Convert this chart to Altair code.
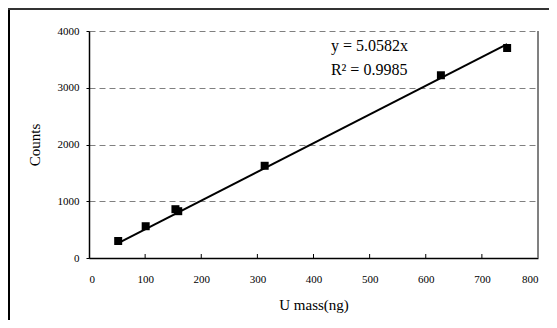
import altair as alt
import pandas as pd

# Data
mass = [52, 101, 154, 159, 313, 627, 745]
counts = [300, 560, 860, 825, 1625, 3220, 3700]
slope = 5.0582
x_ticks = [0, 100, 200, 300, 400, 500, 600, 700, 800]
inner_ticks = [100, 200, 300, 400, 500, 600, 700]
y_ticks = [0, 1000, 2000, 3000, 4000]
eq_text = ["y = 5.0582x", "R² = 0.9985"]
eq_x = [431, 431]
eq_y = [3736, 3313]

W, H = 449, 227
FONT = "Liberation Serif"

xs = alt.Scale(domain=[0, 800], nice=False, zero=False)
ys = alt.Scale(domain=[0, 4000], nice=False, zero=False)

pts = pd.DataFrame({"mass": mass, "counts": counts})
trend = pd.DataFrame({
    "mass": [min(mass), max(mass)],
    "counts": [slope * min(mass), slope * max(mass)],
})
ticks_df = pd.DataFrame({"t": inner_ticks})
eq_df = pd.DataFrame({"text": eq_text, "x": eq_x, "y": eq_y})

x_axis = alt.Axis(values=x_ticks, title="U mass(ng)", grid=False, tickSize=0,
                  domainColor="black", domainWidth=1.5, labelPadding=15, format="d",
                  labelFont=FONT, labelFontSize=11, labelColor="black",
                  titleFont=FONT, titleFontSize=15, titleFontWeight="normal",
                  titleColor="black", titlePadding=13)
y_axis = alt.Axis(values=y_ticks, title="Counts", grid=True, gridDash=[6, 4],
                  gridColor="#808080", gridWidth=1, tickSize=3, tickColor="black",
                  domainColor="black", domainWidth=1.5, labelPadding=7, format="d",
                  labelFont=FONT, labelFontSize=11, labelColor="black",
                  titleFont=FONT, titleFontSize=15, titleFontWeight="normal",
                  titleColor="black", titlePadding=15)

points = alt.Chart(pts).mark_square(size=64, color="black", opacity=1).encode(
    x=alt.X("mass:Q", scale=xs, axis=x_axis),
    y=alt.Y("counts:Q", scale=ys, axis=y_axis),
)

line = alt.Chart(trend).mark_line(color="black", strokeWidth=2).encode(
    x=alt.X("mass:Q", scale=xs),
    y=alt.Y("counts:Q", scale=ys),
)

xticks = alt.Chart(ticks_df).mark_rule(color="black", strokeWidth=1).encode(
    x=alt.X("t:Q", scale=xs),
    y=alt.value(H),
    y2=alt.value(H - 4),
)

right_border = alt.Chart(ticks_df).mark_rule(color="#808080", strokeWidth=1).encode(
    x=alt.datum(800, scale=xs),
    y=alt.value(0),
    y2=alt.value(H),
)

eq = alt.Chart(eq_df).mark_text(align="left", baseline="middle", font=FONT,
                                fontSize=16, color="black").encode(
    x=alt.X("x:Q", scale=xs),
    y=alt.Y("y:Q", scale=ys),
    text="text:N",
)

frame_left = alt.Chart(ticks_df).mark_rule(color="black", strokeWidth=2).encode(
    x=alt.value(-80), y=alt.value(-23), y2=alt.value(H + 70),
)
frame_top = alt.Chart(ticks_df).mark_rule(color="#333333", strokeWidth=2).encode(
    x=alt.value(-81), x2=alt.value(W + 30), y=alt.value(-22),
)

chart = alt.layer(right_border, line, points, xticks, eq, frame_left, frame_top).properties(
    width=W, height=H,
    autosize=alt.AutoSizeParams(type="none"),
    padding={"left": 81, "top": 23, "right": 11, "bottom": 62},
    background="white",
).configure_view(stroke=None)

chart.save("out.html", embed_options={"renderer": "svg", "actions": False})
